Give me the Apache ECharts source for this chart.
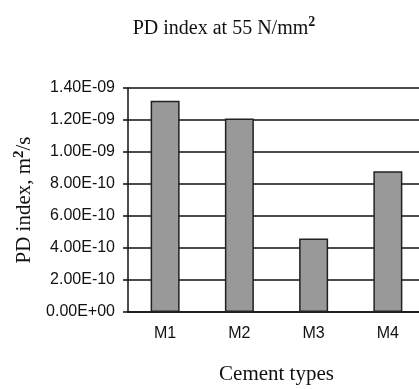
<!DOCTYPE html>
<html>
<head>
<meta charset="utf-8">
<script src="https://cdn.jsdelivr.net/npm/echarts@6/dist/echarts.min.js"></script>
<style>
    html, body { margin: 0; padding: 0; background: #fff; }
    #chart { width: 419px; height: 389px; }
</style>
</head>
<body>
<div id="chart"></div>
<script>
    // 数据
    var categories = ['M1', 'M2', 'M3', 'M4'];
    var pdIndex = [1.32e-9, 1.21e-9, 4.6e-10, 8.8e-10];
    var yTickLabels = ['0.00E+00', '2.00E-10', '4.00E-10', '6.00E-10', '8.00E-10', '1.00E-09', '1.20E-09', '1.40E-09'];
    var yStep = 2e-10;

    var serif = 'Liberation Serif';
    var myChart = echarts.init(document.getElementById('chart'));
    var option = {
        animation: false,
        backgroundColor: '#fff',
        title: {
            text: '{t|PD index at 55 N/mm}{s|2}',
            left: 219,
            top: 10,
            textAlign: 'center',
            textStyle: {
                fontWeight: 'normal',
                rich: {
                    t: { fontFamily: serif, fontSize: 20, fontWeight: 'normal', lineHeight: 24, color: '#111', verticalAlign: 'bottom' },
                    s: { fontFamily: serif, fontSize: 14, fontWeight: 'bold', lineHeight: 24, color: '#111', verticalAlign: 'top' }
                }
            }
        },
        grid: {
            left: 128,
            top: 88,
            bottom: 77,
            width: 297,
            outerBoundsMode: 'none'
        },
        xAxis: {
            type: 'category',
            data: categories,
            name: 'Cement types',
            nameLocation: 'middle',
            nameGap: 52,
            nameTextStyle: {
                fontFamily: serif,
                fontSize: 21,
                color: '#111'
            },
            axisLine: { lineStyle: { color: '#111', width: 1.5 } },
            axisTick: { length: 5, lineStyle: { color: '#111', width: 1.5 } },
            axisLabel: {
                margin: 14,
                fontFamily: 'Liberation Sans',
                fontSize: 16,
                color: '#111'
            }
        },
        yAxis: {
            type: 'value',
            min: 0,
            max: 1.4e-9,
            interval: yStep,
            name: '{t|PD index, m}{s|2}{t|/s}',
            nameLocation: 'middle',
            nameRotate: 90,
            nameGap: 92,
            nameTextStyle: {
                rich: {
                    t: { fontFamily: serif, fontSize: 21, lineHeight: 24, color: '#111', verticalAlign: 'bottom' },
                    s: { fontFamily: serif, fontSize: 15, fontWeight: 'bold', lineHeight: 24, color: '#111', verticalAlign: 'top' }
                }
            },
            axisLine: { show: true, lineStyle: { color: '#111', width: 1.5 } },
            axisTick: { show: true, length: 5, lineStyle: { color: '#111', width: 1.5 } },
            axisLabel: {
                margin: 13,
                fontFamily: 'Liberation Sans',
                fontSize: 16,
                color: '#111',
                formatter: function (v) {
                    return yTickLabels[Math.round(v / yStep)];
                }
            },
            splitLine: { lineStyle: { color: '#111', width: 1.5 } }
        },
        series: [{
            type: 'bar',
            data: pdIndex,
            barWidth: 29,
            itemStyle: {
                color: '#999',
                borderColor: '#222',
                borderWidth: 1.5
            }
        }]
    };
    myChart.setOption(option);
</script>
</body>
</html>
